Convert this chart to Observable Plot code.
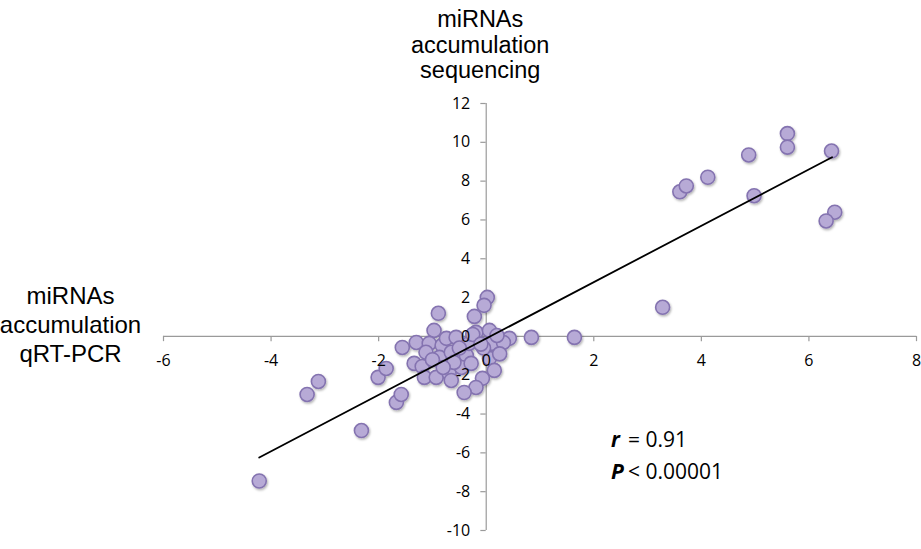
<!DOCTYPE html>
<html>
<head>
<meta charset="utf-8">
<script src="https://cdn.jsdelivr.net/npm/d3@7"></script>
<script src="https://cdn.jsdelivr.net/npm/@observablehq/plot@0.6"></script>
<style>
  html, body { margin: 0; padding: 0; background: #fff; }
  #chart { width: 921px; height: 549px; }
</style>
</head>
<body>
<div id="chart"></div>
<script>
// qRT-PCR (x) vs sequencing (y) miRNA accumulation
const qrtpcr = [
  -4.22, -3.33, -3.12, -2.32, -1.67, -1.58, -2.01, -1.86,
  -0.89, 0.02, -0.04, -0.22, -0.97, -1.56, -1.30, -1.06, -0.82, -0.74, -0.56,
  -0.19, 0.06, 0.43, 0.84, 1.64, 0.11, 0.32,
  -1.12, -0.87, -0.65, -0.37, -1.34, -1.19, -1.15, -0.93, -0.69, -0.65, -0.46, -0.28,
  0.06, 0.15, -0.07, -0.19, -0.41, -0.32, -0.60, -0.25, 0.20, -0.05,
  -0.50, -0.10, 0.25, -0.80, -1.00,
  3.60, 3.72, 4.12, 4.88, 5.60, 5.60, 6.42, 4.98, 6.48, 6.32, 3.28
];
const sequencing = [
  -7.45, -2.99, -2.32, -4.85, -3.40, -2.99, -2.11, -1.65,
  1.19, 2.01, 1.60, 1.03, 0.31, -0.57, -0.31, -0.36, -0.46, -0.10, -0.05,
  0.21, 0.31, -0.10, -0.05, -0.05, -0.36, -0.31,
  -0.82, -1.08, -0.82, -0.98, -1.39, -1.55, -2.11, -2.11, -1.91, -2.27, -1.60, -1.39,
  -1.13, -1.75, -2.16, -2.63, -2.89, -0.36, -1.34, 0.10, 0.05, -0.60,
  -0.60, -0.40, -0.90, -1.60, -1.20,
  7.45, 7.75, 8.20, 9.35, 10.45, 9.75, 9.55, 7.25, 6.40, 5.95, 1.50
];
// fitted regression line endpoints
const fitX = [-4.22, 6.43];
const fitY = [-6.24, 9.23];
// axis ticks
const xTicks = [-6, -4, -2, 0, 2, 4, 6, 8];
const yTicks = [-10, -8, -6, -4, -2, 0, 2, 4, 6, 8, 10, 12];
// texts
const xTitle = "miRNAs\naccumulation\nqRT-PCR";
const yTitle = "miRNAs\naccumulation\nsequencing";
const statLabels = ["r", "P"];
const statValues = ["= 0.91", "< 0.00001"];
const statX = [2.32, 2.32];
const statY = [-5.36, -7.0];

const points = qrtpcr.map((x, i) => ({x, y: sequencing[i]}));
const fit = fitX.map((x, i) => ({x, y: fitY[i]}));
const stats = statLabels.map((l, i) => ({l, v: statValues[i], x: statX[i], y: statY[i]}));

const axisColor = "#9a9a9a";
const tickFont = "'Open Sans', 'Liberation Sans', sans-serif";
const titleFont = "'Liberation Sans', Arial, sans-serif";

const chart = Plot.plot({
  width: 921,
  height: 549,
  marginLeft: 163,
  marginRight: 5,
  marginTop: 103,
  marginBottom: 19,
  x: {domain: [-6, 8], axis: null},
  y: {domain: [-10, 12], axis: null},
  style: {background: "#fff", overflow: "visible"},
  marks: [
    // axes crossing at zero
    Plot.ruleY([0], {x1: -6, x2: 8, stroke: axisColor, strokeWidth: 1.2}),
    Plot.ruleX([0], {y1: -10, y2: 12, stroke: axisColor, strokeWidth: 1.2}),
    Plot.ruleX(xTicks, {x: d => d, y1: 0, y2: -0.27, stroke: axisColor, strokeWidth: 1.2}),
    Plot.ruleY(yTicks, {y: d => d, x1: -0.1, x2: 0, stroke: axisColor, strokeWidth: 1.2}),
    // points
    Plot.dot(points, {x: "x", y: "y", r: 7, fill: "#b7aad6", fillOpacity: 1, stroke: "#8473b0", strokeWidth: 1.6}),
    // regression line
    Plot.line(fit, {x: "x", y: "y", stroke: "#000", strokeWidth: 1.8}),
    // tick labels
    Plot.text(xTicks, {x: d => d, y: 0, dy: 24, text: d => String(d), fontSize: 16, fontFamily: tickFont, fill: "#000"}),
    Plot.text(yTicks, {x: 0, y: d => d, dx: -16, textAnchor: "end", text: d => String(d), fontSize: 16, fontFamily: tickFont, fill: "#000"}),
    // axis titles
    Plot.text([yTitle], {x: 0, y: 12, dx: -6, dy: -59, text: d => d, fontSize: 23.5, lineHeight: 1.08, fontFamily: titleFont, fill: "#000"}),
    Plot.text([xTitle], {x: -6, y: 0, dx: -93, dy: -13, text: d => d, fontSize: 24, lineHeight: 1.22, fontFamily: titleFont, fill: "#000"}),
    // stats
    Plot.text(stats, {x: "x", y: "y", text: "l", textAnchor: "start", fontSize: 21, fontWeight: "bold", fontStyle: "italic", fontFamily: tickFont, fill: "#000"}),
    Plot.text(stats, {x: "x", y: "y", text: "v", textAnchor: "start", dx: 17, fontSize: 21, fontFamily: tickFont, fill: "#000"})
  ]
});

// soft drop shadow on the points
const svg = d3.select(chart);
const defs = svg.insert("defs", ":first-child");
const f = defs.append("filter").attr("id", "shadow").attr("x", "-50%").attr("y", "-50%").attr("width", "200%").attr("height", "200%");
f.append("feDropShadow").attr("dx", 1).attr("dy", 1.5).attr("stdDeviation", 1.2).attr("flood-color", "#000").attr("flood-opacity", 0.3);
const circle = chart.querySelector("circle");
if (circle) circle.parentNode.setAttribute("filter", "url(#shadow)");

document.getElementById("chart").appendChild(chart);
</script>
</body>
</html>
